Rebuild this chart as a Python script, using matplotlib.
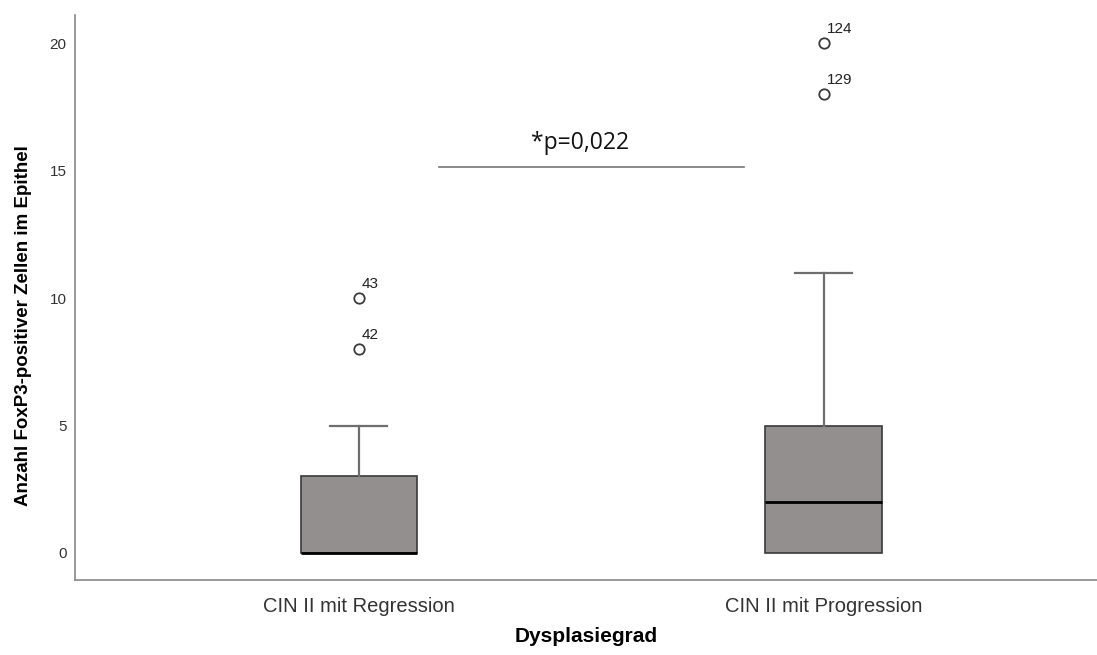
import matplotlib
matplotlib.use("Agg")
import matplotlib.pyplot as plt

plt.rcParams['font.family'] = ['Liberation Sans', 'DejaVu Sans']

# Daten
groups = ["CIN II mit Regression", "CIN II mit Progression"]
q1 = [0, 0]
median = [0, 2]
q3 = [3, 5]
whisker_lo = [0, 0]
whisker_hi = [5, 11]
outliers = [[8, 10], [18, 20]]
outlier_ids = [["42", "43"], ["129", "124"]]
y_ticks = [0, 5, 10, 15, 20]
p_text = "*p=0,022"
sig_level = 15.15

def make_plot():
    fig = plt.figure(figsize=(10.97, 6.55), dpi=100)
    ax = fig.add_axes([0.0684, 0.1145, 0.9316, 0.8625])

    stats = []
    for i, g in enumerate(groups):
        stats.append(dict(label=g, q1=q1[i], med=median[i], q3=q3[i],
                          whislo=whisker_lo[i], whishi=whisker_hi[i],
                          fliers=outliers[i]))

    positions = [1, 2]
    bp = ax.bxp(stats, positions=positions, widths=0.25, patch_artist=True,
                capwidths=0.123,
                boxprops=dict(facecolor='#938f8e', edgecolor='#3a3a3a', lw=1.2),
                medianprops=dict(color='black', lw=2.0),
                whiskerprops=dict(color='#6e6e6e', lw=1.6),
                capprops=dict(color='#6e6e6e', lw=1.6),
                flierprops=dict(marker='o', markersize=7.5, markerfacecolor='white',
                                markeredgecolor='#3a3a3a', markeredgewidth=1.3))

    # untere Whisker liegen bei 0 auf dem Box-Rand -> ausblenden
    for i in range(len(groups)):
        if whisker_lo[i] == q1[i]:
            bp['caps'][2 * i].set_visible(False)
            bp['whiskers'][2 * i].set_visible(False)

    # Fall-IDs neben den Ausreissern
    for pos, vals, ids in zip(positions, outliers, outlier_ids):
        for v, lab in zip(vals, ids):
            ax.annotate(lab, xy=(pos, v), xytext=(2, 5), textcoords='offset points',
                        fontsize=11, color='#222222', va='bottom', ha='left')

    # Signifikanzlinie
    ax.plot([1.172, 1.828], [sig_level, sig_level], color='#777777', lw=1.2)
    ax.text(1.476, sig_level + 0.45, p_text, ha='center', va='bottom',
            fontsize=16.5, family=['Open Sans', 'DejaVu Sans'], color='#111111')

    ax.set_xlim(0.39, 2.588)
    ax.set_ylim(-1.06, 21.1)
    ax.set_yticks(y_ticks)
    ax.set_xticks(positions)
    ax.set_xticklabels(groups)
    ax.tick_params(axis='both', length=0)
    ax.tick_params(axis='y', labelsize=11, labelcolor='#333333', pad=6)
    ax.tick_params(axis='x', labelsize=14.5, labelcolor='#333333', pad=12)

    for s in ['top', 'right']:
        ax.spines[s].set_visible(False)
    for s in ['left', 'bottom']:
        ax.spines[s].set_color('#888888')
        ax.spines[s].set_linewidth(1.2)

    ax.set_xlabel('Dysplasiegrad', fontsize=15, fontweight='bold')
    ax.xaxis.set_label_coords(0.5, -0.083)
    ax.set_ylabel('Anzahl FoxP3-positiver Zellen im Epithel', fontsize=13.5,
                  fontweight='bold')
    ax.yaxis.set_label_coords(-0.042, 0.451)

    fig.savefig('out.png', dpi=100)

if __name__ == '__main__':
    make_plot()
